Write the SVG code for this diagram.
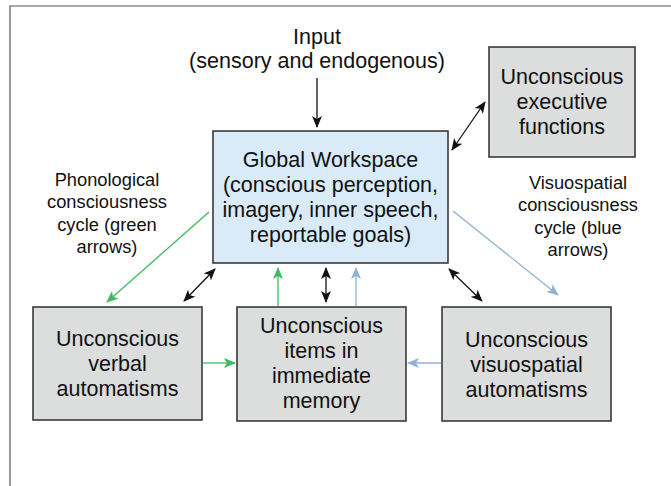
<svg xmlns="http://www.w3.org/2000/svg" width="671" height="486" viewBox="0 0 671 486">
<defs>
<style>
.box{fill:#dcdddd;stroke:#3a3a3a;stroke-width:1.6}
.gw{fill:#d9eaf8;stroke:#3a3a3a;stroke-width:1.6}
.t{font-family:"Liberation Sans",Arial,sans-serif;font-size:21.5px;fill:#111;text-anchor:middle}
.s{font-family:"Liberation Sans",Arial,sans-serif;font-size:18.3px;fill:#111;text-anchor:middle}
.k{stroke:#111;stroke-width:1.3;fill:none}
.g{stroke:#3dbb5e;stroke-width:1.3;fill:none}
.b{stroke:#8fb2d3;stroke-width:1.3;fill:none}
</style>
<marker id="ak" viewBox="0 0 12 10" refX="11" refY="5" markerWidth="12" markerHeight="10" markerUnits="userSpaceOnUse" orient="auto-start-reverse"><path d="M0,0 L12,5 L0,10 L3,5 z" fill="#111"/></marker>
<marker id="ag" viewBox="0 0 12 10" refX="11" refY="5" markerWidth="12" markerHeight="10" markerUnits="userSpaceOnUse" orient="auto"><path d="M0,0 L12,5 L0,10 L3,5 z" fill="#3dbb5e"/></marker>
<marker id="ab" viewBox="0 0 12 10" refX="11" refY="5" markerWidth="12" markerHeight="10" markerUnits="userSpaceOnUse" orient="auto"><path d="M0,0 L12,5 L0,10 L3,5 z" fill="#8fb2d3"/></marker>
</defs>
<rect width="671" height="486" fill="#fff"/>
<path d="M10,486 V6 H671" fill="none" stroke="#555" stroke-width="1.2"/>

<g id="input-label">
<text class="t" x="317" y="44">Input</text>
<text class="t" x="317" y="68">(sensory and endogenous)</text>
</g>
<g id="phonological-label">
<text class="s" x="107" y="186">Phonological</text>
<text class="s" x="107" y="208">consciousness</text>
<text class="s" x="107" y="231">cycle (green</text>
<text class="s" x="107" y="253">arrows)</text>
</g>
<g id="visuospatial-label">
<text class="s" x="578" y="189">Visuospatial</text>
<text class="s" x="578" y="211">consciousness</text>
<text class="s" x="578" y="234">cycle (blue</text>
<text class="s" x="578" y="256">arrows)</text>
</g>

<g id="global-workspace">
<rect class="gw" x="213" y="131" width="235" height="132"/>
<text class="t" x="330.5" y="167">Global Workspace</text>
<text class="t" x="330.5" y="192">(conscious perception,</text>
<text class="t" x="330.5" y="217">imagery, inner speech,</text>
<text class="t" x="330.5" y="242">reportable goals)</text>
</g>
<g id="executive">
<rect class="box" x="489" y="47" width="146" height="110"/>
<text class="t" x="562" y="84">Unconscious</text>
<text class="t" x="562" y="109">executive</text>
<text class="t" x="562" y="134">functions</text>
</g>
<g id="verbal">
<rect class="box" x="33" y="307" width="169" height="113"/>
<text class="t" x="117.5" y="346">Unconscious</text>
<text class="t" x="117.5" y="371">verbal</text>
<text class="t" x="117.5" y="396">automatisms</text>
</g>
<g id="memory">
<rect class="box" x="237" y="307" width="169" height="114"/>
<text class="t" x="321.5" y="333">Unconscious</text>
<text class="t" x="321.5" y="358">items in</text>
<text class="t" x="321.5" y="383">immediate</text>
<text class="t" x="321.5" y="408">memory</text>
</g>
<g id="visuospatial">
<rect class="box" x="442" y="307" width="169" height="114"/>
<text class="t" x="526.5" y="347">Unconscious</text>
<text class="t" x="526.5" y="372">visuospatial</text>
<text class="t" x="526.5" y="397">automatisms</text>
</g>

<g id="connectors">
<line class="k" x1="317" y1="78" x2="317" y2="127" marker-end="url(#ak)"/>
<line class="k" x1="452" y1="150" x2="485" y2="102" marker-start="url(#ak)" marker-end="url(#ak)"/>
<line class="k" x1="215" y1="269" x2="184" y2="301" marker-start="url(#ak)" marker-end="url(#ak)"/>
<line class="k" x1="449" y1="269" x2="482" y2="301" marker-start="url(#ak)" marker-end="url(#ak)"/>
<line class="k" x1="326" y1="268" x2="326" y2="302" marker-start="url(#ak)" marker-end="url(#ak)"/>
<line class="g" x1="209" y1="212" x2="107" y2="302" marker-end="url(#ag)"/>
<line class="g" x1="203" y1="363" x2="235" y2="363" marker-end="url(#ag)"/>
<line class="g" x1="278" y1="306" x2="278" y2="268" marker-end="url(#ag)"/>
<line class="b" x1="356" y1="306" x2="356" y2="268" marker-end="url(#ab)"/>
<line class="b" x1="441" y1="363" x2="408" y2="363" marker-end="url(#ab)"/>
<line class="b" x1="453" y1="211" x2="558" y2="295" marker-end="url(#ab)"/>
</g>
</svg>
